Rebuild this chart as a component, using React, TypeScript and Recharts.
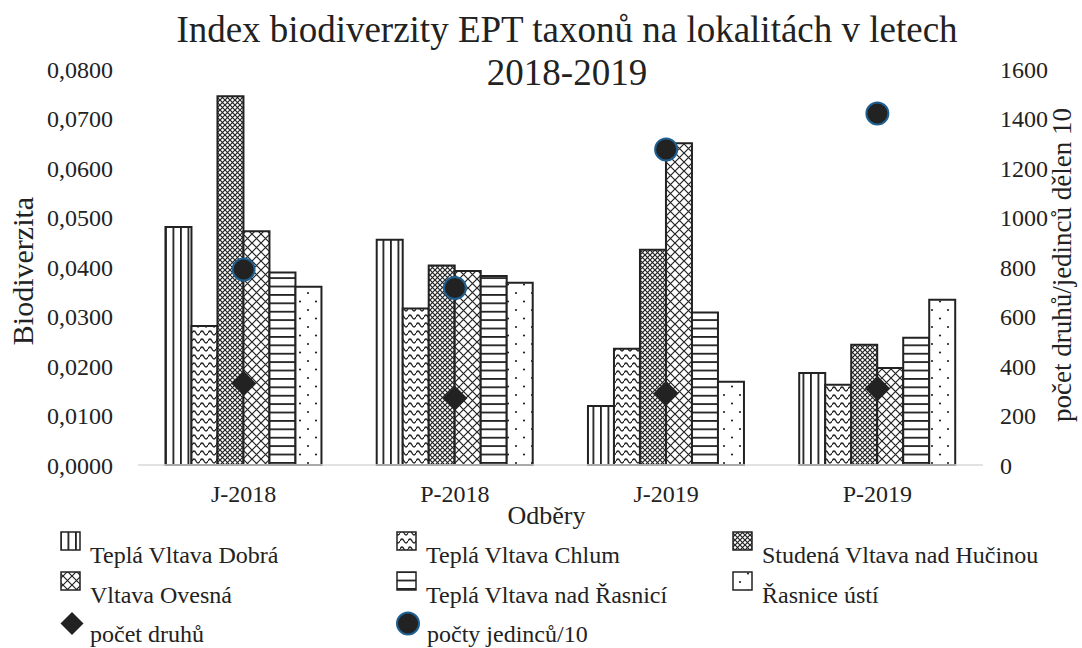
import { ComposedChart, Bar, Line, XAxis, YAxis } from "recharts";

const categories = ["J-2018", "P-2018", "J-2019", "P-2019"];
const seriesNames = [
  "Teplá Vltava Dobrá",
  "Teplá Vltava Chlum",
  "Studená Vltava nad Hučinou",
  "Vltava Ovesná",
  "Teplá Vltava nad Řasnicí",
  "Řasnice ústí",
];
const dobra = [0.0481, 0.0455, 0.0119, 0.0186];
const chlum = [0.0281, 0.0316, 0.0235, 0.0162];
const hucina = [0.0745, 0.0403, 0.0435, 0.0243];
const ovesna = [0.0472, 0.0392, 0.065, 0.0196];
const nadRasnici = [0.0389, 0.0382, 0.0308, 0.0257];
const rasniceUsti = [0.036, 0.0368, 0.0168, 0.0334];
const pocetDruhu = [330, 270, 290, 310];
const poctyJedincu = [790, 715, 1275, 1420];
const leftTicks = [0, 0.01, 0.02, 0.03, 0.04, 0.05, 0.06, 0.07, 0.08];
const rightTicks = [0, 200, 400, 600, 800, 1000, 1200, 1400, 1600];

const barKeys = ["dobra", "chlum", "hucina", "ovesna", "nadRasnici", "rasniceUsti"];
const patternIds = ["pVert", "pWave", "pDense", "pLattice", "pHoriz", "pDots"];

const data = categories.map((c, i) => ({
  cat: c,
  dobra: dobra[i],
  chlum: chlum[i],
  hucina: hucina[i],
  ovesna: ovesna[i],
  nadRasnici: nadRasnici[i],
  rasniceUsti: rasniceUsti[i],
  druhy: pocetDruhu[i],
  jedinci: poctyJedincu[i],
}));

const FONT = "'Liberation Serif', serif";
const INK = "#222";

// fill patterns for the bars (black & white print style)
const Patterns = () => (
  <svg width={0} height={0} style={{ position: "absolute" }}>
    <defs>
      <pattern id="pVert" patternUnits="userSpaceOnUse" width={7.5} height={10}>
        <rect width={7.5} height={10} fill="#fff" />
        <rect x={0} y={0} width={1.8} height={10} fill={INK} />
      </pattern>
      <pattern id="pWave" patternUnits="userSpaceOnUse" width={8} height={8}>
        <rect width={8} height={8} fill="#fff" />
        <path d="M0 5 Q2 1 4 5 T8 5" fill="none" stroke={INK} strokeWidth={1.3} />
      </pattern>
      <pattern id="pDense" patternUnits="userSpaceOnUse" width={5} height={5}>
        <rect width={5} height={5} fill="#fff" />
        <path d="M0 0L5 5M5 0L0 5" stroke={INK} strokeWidth={1.2} />
      </pattern>
      <pattern id="pLattice" patternUnits="userSpaceOnUse" width={9} height={9}>
        <rect width={9} height={9} fill="#fff" />
        <path d="M0 0L9 9M9 0L0 9" stroke={INK} strokeWidth={1.2} />
      </pattern>
      <pattern id="pHoriz" patternUnits="userSpaceOnUse" width={10} height={8.4}>
        <rect width={10} height={8.4} fill="#fff" />
        <rect x={0} y={0} width={10} height={1.8} fill={INK} />
      </pattern>
      <pattern id="pDots" patternUnits="userSpaceOnUse" width={16} height={17}>
        <rect width={16} height={17} fill="#fff" />
        <circle cx={4} cy={4} r={1.1} fill={INK} />
        <circle cx={12} cy={12.5} r={1.1} fill={INK} />
      </pattern>
    </defs>
  </svg>
);

const Diamond = (props: any) => {
  const { cx, cy, index } = props;
  const s = 12.5;
  return (
    <path
      key={`d-${index}`}
      d={`M${cx} ${cy - s}L${cx + s} ${cy}L${cx} ${cy + s}L${cx - s} ${cy}Z`}
      fill={INK}
    />
  );
};

const Circle = (props: any) => {
  const { cx, cy, index } = props;
  return <circle key={`c-${index}`} cx={cx} cy={cy} r={11} fill={INK} stroke="#1f5f8f" strokeWidth={2} />;
};

const fmtLeft = (v: number) => v.toFixed(4).replace(".", ",");

const legendCols = [61, 397, 733];
const legendRows = [532, 572, 612];

function Overlay() {
  const items = seriesNames.map((name, i) => ({ name, pat: patternIds[i], col: i % 3, row: Math.floor(i / 3) }));
  return (
    <svg width={1082} height={648} style={{ position: "absolute", left: 0, top: 0, pointerEvents: "none" }}>
      <text x={567} y={42} textAnchor="middle" fontFamily={FONT} fontSize={37} fill={INK}>
        Index biodiverzity EPT taxonů na lokalitách v letech
      </text>
      <text x={567} y={85} textAnchor="middle" fontFamily={FONT} fontSize={37} fill={INK}>
        2018-2019
      </text>
      {items.map((it) => (
        <g key={it.name}>
          <rect
            x={legendCols[it.col]}
            y={legendRows[it.row]}
            width={19}
            height={18}
            fill={`url(#${it.pat})`}
            stroke={INK}
            strokeWidth={1.5}
          />
          <text x={legendCols[it.col] + 29} y={legendRows[it.row] + 31} fontFamily={FONT} fontSize={24} fill={INK}>
            {it.name}
          </text>
        </g>
      ))}
      <path
        d={`M72 ${legendRows[2]}L83.5 ${legendRows[2] + 11.5}L72 ${legendRows[2] + 23}L60.5 ${legendRows[2] + 11.5}Z`}
        fill={INK}
      />
      <text x={90} y={legendRows[2] + 30} fontFamily={FONT} fontSize={24} fill={INK}>
        počet druhů
      </text>
      <circle cx={408} cy={legendRows[2] + 11.5} r={11} fill={INK} stroke="#1f5f8f" strokeWidth={2} />
      <text x={427} y={legendRows[2] + 30} fontFamily={FONT} fontSize={24} fill={INK}>
        počty jedinců/10
      </text>
    </svg>
  );
}

export default function App() {
  const tickStyle = { fontFamily: FONT, fontSize: 24, fill: INK };
  return (
    <div style={{ position: "absolute", left: 0, top: 0, width: 1082, height: 648, background: "#fff" }}>
      <Patterns />
      <ComposedChart
        width={1082}
        height={648}
        data={data}
        margin={{ top: 69, right: 0, bottom: 123, left: 0 }}
        barCategoryGap="13%"
        barGap={0}
      >
        <XAxis
          dataKey="cat"
          height={60}
          tickLine={false}
          tickSize={0}
          tickMargin={20}
          axisLine={{ stroke: "#d9d9d9", strokeWidth: 1.5 }}
          tick={tickStyle}
          label={{ value: "Odběry", position: "center", dx: -14, dy: 20, style: { ...tickStyle, fontSize: 26 } }}
        />
        <YAxis
          yAxisId="left"
          width={138}
          domain={[0, 0.08]}
          ticks={leftTicks}
          tickFormatter={fmtLeft}
          axisLine={false}
          tickLine={false}
          tickSize={0}
          tickMargin={25}
          tick={tickStyle}
          label={{ value: "Biodiverzita", position: "center", angle: -90, dx: -47, dy: 4, style: { ...tickStyle, fontSize: 30 } }}
        />
        <YAxis
          yAxisId="right"
          orientation="right"
          width={99}
          domain={[0, 1600]}
          ticks={rightTicks}
          axisLine={false}
          tickLine={false}
          tickSize={0}
          tickMargin={17}
          tick={{ ...tickStyle, textAnchor: "start" }}
          label={{
            value: "počet druhů/jedinců dělen 10",
            position: "center",
            angle: -90,
            dx: 29,
            dy: -2,
            style: { ...tickStyle, fontSize: 27 },
          }}
        />
        {barKeys.map((k, i) => (
          <Bar
            key={k}
            yAxisId="left"
            dataKey={k}
            name={seriesNames[i]}
            fill={`url(#${patternIds[i]})`}
            stroke={INK}
            strokeWidth={2}
            isAnimationActive={false}
          />
        ))}
        <Line
          yAxisId="right"
          dataKey="druhy"
          name="počet druhů"
          stroke="none"
          dot={Diamond}
          activeDot={false}
          isAnimationActive={false}
        />
        <Line
          yAxisId="right"
          dataKey="jedinci"
          name="počty jedinců/10"
          stroke="none"
          dot={Circle}
          activeDot={false}
          isAnimationActive={false}
        />
      </ComposedChart>
      <Overlay />
    </div>
  );
}
